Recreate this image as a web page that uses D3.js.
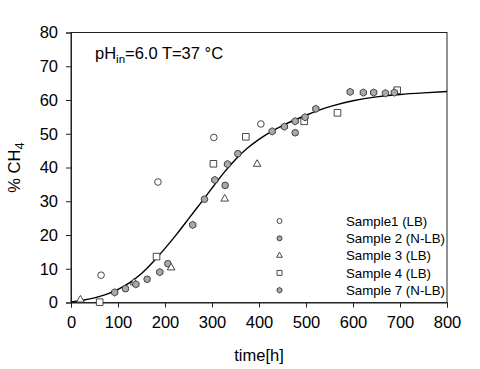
<!DOCTYPE html>
<html><head><meta charset="utf-8">
<script src="https://cdn.jsdelivr.net/npm/d3@7"></script>
<style>body{margin:0;background:#fff}svg{display:block}text{font-family:"Liberation Sans",Arial,sans-serif;fill:#000;font-weight:400}</style>
</head><body><svg id="c" width="480" height="369"></svg>
<script>
const xTicks=[0,100,200,300,400,500,600,700,800];
const yTicks=[0,10,20,30,40,50,60,70,80];
const seriesNames=["Sample1 (LB)","Sample 2 (N-LB)","Sample 3 (LB)","Sample 4 (LB)","Sample 7 (N-LB)"];
const sample1=[[64,8.1],[185,35.7],[304,48.9],[404,52.9]];
const sample2=[[116,4.1],[162,6.9],[206,11.5],[284,30.6],[328,34.7],[355,44.1],[477,50.3]];
const sample3=[[20,0.8],[134,5.9],[213,10.3],[327,30.7],[396,41.0]];
const sample4=[[61,0.1],[182,13.6],[303,41.1],[372,49.1],[496,53.7],[567,56.2],[694,62.9]];
const sample7=[[93,3.0],[138,5.4],[189,9.0],[259,23.0],[306,36.3],[333,41.0],[428,50.7],[454,52.1],[477,53.7],[498,54.9],[521,57.4],[594,62.4],[622,62.2],[644,62.2],[669,62.0],[688,62.2]];
const fitCurve=[[0,0.2],[25,0.6],[50,1.3],[75,2.3],[100,3.8],[125,5.8],[150,8.4],[175,12.0],[200,16.0],[225,20.2],[250,24.8],[275,29.3],[300,33.9],[325,38.5],[350,42.5],[375,45.8],[400,48.4],[425,50.6],[450,52.5],[475,54.0],[500,55.5],[525,56.9],[550,58.1],[600,59.9],[650,61.0],[700,61.7],[750,62.1],[800,62.5]];

const svg=d3.select("#c");
const L=71,R=447,T=32.5,B=302.5;
const x=d3.scaleLinear().domain([0,800]).range([L,R]);
const y=d3.scaleLinear().domain([0,80]).range([B,T]);

svg.append("rect").attr("x",L).attr("y",T).attr("width",R-L).attr("height",B-T)
  .attr("fill","none").attr("stroke","#222").attr("stroke-width",1);

const fs="16.5px";
const gx=svg.append("g").attr("transform",`translate(0,${B})`)
  .call(d3.axisBottom(x).tickValues(xTicks).tickSize(5).tickPadding(9).tickFormat(d3.format("d")));
const gy=svg.append("g").attr("transform",`translate(${L},0)`)
  .call(d3.axisLeft(y).tickValues(yTicks).tickSize(5).tickPadding(8).tickFormat(d3.format("d")));
[gx,gy].forEach(g=>{g.select(".domain").attr("stroke","#222");g.selectAll(".tick line").attr("stroke","#222");
  g.selectAll("text").style("font-size",fs).attr("font-family",null);});

svg.append("text").attr("x",(L+R)/2).attr("y",361).attr("text-anchor","middle").style("font-size","16.5px").text("time[h]");
const yl=svg.append("text").attr("transform",`translate(20,${(T+B)/2}) rotate(-90)`).attr("text-anchor","middle").style("font-size","16.5px");
yl.append("tspan").text("% CH");
yl.append("tspan").attr("dy","4").style("font-size","13px").text("4");

const an=svg.append("text").attr("x",95).attr("y",59).style("font-size","16.5px");
an.append("tspan").text("pH");
an.append("tspan").attr("dy","4").style("font-size","11.5px").text("in");
an.append("tspan").attr("dy","-4").text("=6.0 T=37 °C");

svg.append("path").datum(fitCurve).attr("fill","none").attr("stroke","#000").attr("stroke-width",1.4)
  .attr("d",d3.line().x(d=>x(d[0])).y(d=>y(d[1])).curve(d3.curveBasis));

function hexPath(r){const p=d3.path();for(let i=0;i<6;i++){const a=Math.PI/6+i*Math.PI/3;const px=r*Math.cos(a),py=r*Math.sin(a);i?p.lineTo(px,py):p.moveTo(px,py);}p.closePath();return p.toString();}
const styles=[
  {shape:"circle",fill:"#fff"},
  {shape:"circle",fill:"#a9a9a9"},
  {shape:"triangle",fill:"#fff"},
  {shape:"square",fill:"#fff"},
  {shape:"hex",fill:"#a9a9a9"}];
function symPath(shape,s){
  if(shape==="circle") return d3.symbol(d3.symbolCircle,Math.PI*s*s)();
  if(shape==="square") return d3.symbol(d3.symbolSquare,(2*s)*(2*s))();
  if(shape==="triangle"){const side=2.3*s;return d3.symbol(d3.symbolTriangle,Math.sqrt(3)/4*side*side)();}
  return hexPath(s*1.1);
}
const all=[sample1,sample2,sample3,sample4,sample7];
all.forEach((data,i)=>{
  svg.append("g").selectAll("path").data(data).join("path")
    .attr("transform",d=>`translate(${x(d[0])},${y(d[1])})`)
    .attr("d",symPath(styles[i].shape,3.3))
    .attr("fill",styles[i].fill).attr("stroke","#333").attr("stroke-width",0.9);
});

const lg=svg.append("g");
seriesNames.forEach((n,i)=>{
  const cy=221+i*17.3;
  lg.append("path").attr("transform",`translate(279.5,${cy})`).attr("d",symPath(styles[i].shape,2.5))
    .attr("fill",styles[i].fill).attr("stroke","#333").attr("stroke-width",0.9);
  lg.append("text").attr("x",346).attr("y",cy).attr("dy","0.36em").style("font-size","13.3px").text(n);
});
</script></body></html>
